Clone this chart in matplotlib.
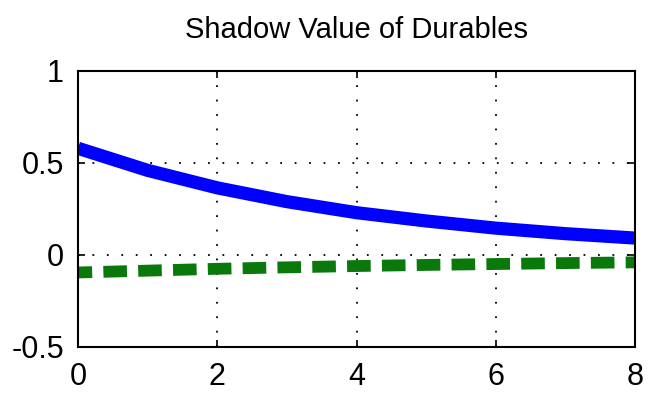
import numpy as np
import matplotlib.pyplot as plt

# values
horizon = [0, 1, 2, 3, 4, 5, 6, 7, 8]
shadow_durables = [0.58, 0.46, 0.365, 0.29, 0.23, 0.185, 0.146, 0.116, 0.092]
shadow_other = [-0.095, -0.085, -0.075, -0.067, -0.06, -0.054, -0.049, -0.044, -0.04]

plt.rcParams['font.family'] = ['Liberation Sans', 'DejaVu Sans']

fig = plt.figure(figsize=(6.48, 4.01), dpi=100)
ax = fig.add_axes([78 / 648, 1 - 347 / 401, (635 - 78) / 648, (347 - 71) / 401])

x = np.asarray(horizon)
ax.plot(x, shadow_durables, color='#0000ff', linewidth=9.5, solid_capstyle='butt')
ax.plot(x, shadow_other, color='#0a780a', linewidth=8.5, linestyle=(0.8, (2.0, 0.95)),
        dash_capstyle='butt')

ax.set_xlim(0, 8)
ax.set_ylim(-0.5, 1)
ax.set_xticks([0, 2, 4, 6, 8])
ax.set_yticks([-0.5, 0, 0.5, 1])
ax.set_yticklabels(['-0.5', '0', '0.5', '1'])
ax.grid(True, color='black', linestyle=(0, (1, 7)), linewidth=1.3)
ax.tick_params(direction='in', length=5, width=1.2, labelsize=22,
               top=True, right=True)
ax.tick_params(axis='x', pad=11)
ax.tick_params(axis='y', pad=10)
for s in ax.spines.values():
    s.set_linewidth(1.5)
ax.set_title('Shadow Value of Durables', fontsize=21, pad=24)

fig.savefig('out.png', dpi=100)
